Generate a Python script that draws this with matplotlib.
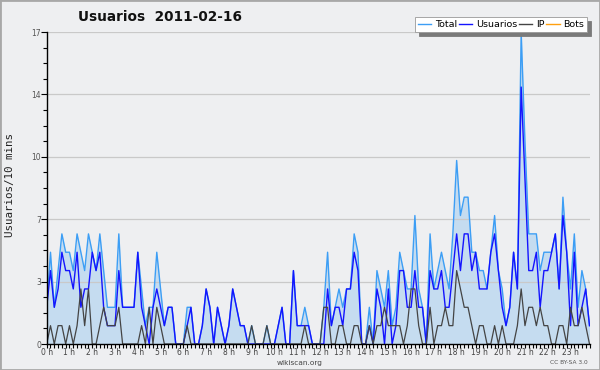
import matplotlib
matplotlib.use('Agg')
import matplotlib.pyplot as plt
from matplotlib.lines import Line2D
from matplotlib.patches import Rectangle

# one value every 10 minutes, 2011-02-16 (144 points)
total = [2, 5, 2, 4, 6, 5,   5, 4, 6, 5, 4, 6,   5, 4, 6, 4, 2, 2,   2, 6, 2, 2, 2, 2,
         5, 3, 1, 2, 2, 5,   3, 1, 2, 2, 0, 0,   0, 2, 2, 0, 0, 1,   3, 2, 0, 2, 1, 0,
         1, 3, 2, 1, 1, 0,   1, 0, 0, 0, 1, 0,   0, 1, 2, 0, 0, 4,   1, 1, 2, 1, 0, 0,
         0, 2, 5, 1, 2, 3,   2, 3, 3, 6, 5, 0,   0, 2, 0, 4, 3, 2,   4, 1, 2, 5, 4, 3,
         3, 7, 3, 2, 0, 6,   3, 4, 5, 4, 3, 6,   10, 7, 8, 8, 5, 5,  4, 4, 3, 5, 7, 4,
         3, 1, 2, 5, 3, 17,  11, 6, 6, 6, 4, 5,  5, 5, 6, 3, 8, 5,   3, 6, 2, 4, 3, 1]

usuarios = [2, 4, 2, 3, 5, 4,   4, 3, 5, 2, 3, 3,   5, 4, 5, 2, 1, 1,   1, 4, 2, 2, 2, 2,
            5, 2, 1, 0, 2, 3,   2, 1, 2, 2, 0, 0,   0, 1, 2, 0, 0, 1,   3, 2, 0, 2, 1, 0,
            1, 3, 2, 1, 1, 0,   0, 0, 0, 0, 0, 0,   0, 1, 2, 0, 0, 4,   1, 1, 1, 1, 0, 0,
            0, 0, 3, 1, 2, 2,   1, 3, 3, 5, 4, 0,   0, 1, 0, 3, 2, 0,   3, 0, 1, 4, 4, 2,
            2, 4, 2, 2, 0, 4,   3, 3, 4, 2, 2, 4,   6, 4, 6, 6, 4, 5,   3, 3, 3, 5, 6, 4,
            2, 1, 2, 5, 3, 14,  9, 4, 4, 5, 2, 4,   4, 5, 6, 3, 7, 5,   1, 5, 1, 2, 3, 1]

ip = [0, 1, 0, 1, 1, 0,   1, 0, 1, 3, 1, 3,   0, 0, 1, 2, 1, 1,   1, 2, 0, 0, 0, 0,
      0, 1, 0, 2, 0, 2,   1, 0, 0, 0, 0, 0,   0, 1, 0, 0, 0, 0,   0, 0, 0, 0, 0, 0,
      0, 0, 0, 0, 0, 0,   1, 0, 0, 0, 1, 0,   0, 0, 0, 0, 0, 0,   0, 0, 1, 0, 0, 0,
      0, 2, 2, 0, 0, 1,   1, 0, 0, 1, 1, 0,   0, 1, 0, 1, 1, 2,   1, 1, 1, 1, 0, 1,
      3, 3, 1, 0, 0, 2,   0, 1, 1, 2, 1, 1,   4, 3, 2, 2, 1, 0,   1, 1, 0, 0, 1, 0,
      1, 0, 0, 0, 1, 3,   1, 2, 2, 1, 2, 1,   1, 0, 0, 1, 1, 0,   2, 1, 1, 2, 1, 0]

hours = ['%d h' % h for h in range(24)]
ytick_vals = [0, 3.4, 6.8, 10.2, 13.6, 17]
ytick_labels = ['0', '3', '7', '10', '14', '17']

bg = '#eeeff1'
c_total = '#3c9ef5'
c_fill = '#c5dcf0'
c_users = '#1414ff'
c_ip = '#444444'
c_bots = '#ffa010'

x = list(range(len(total)))

fig = plt.figure(figsize=(6, 3.7), dpi=100, facecolor=bg)
fig.patches.append(Rectangle((0, 0), 1, 1, transform=fig.transFigure,
                             fill=False, edgecolor='#a8a8a8', lw=2))
ax = fig.add_axes([46.7/600, 26/370, 542.8/600, 312/370], facecolor=bg)

ax.fill_between(x, total, color=c_fill, lw=0, zorder=1)
for v in ytick_vals[1:]:
    ax.axhline(v, color='#c9c9c9', lw=0.9, zorder=1.5)
ax.plot(x, total, color=c_total, lw=1.0, zorder=2)
ax.plot(x, usuarios, color=c_users, lw=1.0, zorder=3)
ax.plot(x, ip, color=c_ip, lw=0.9, zorder=4)

ax.set_xlim(0, len(total) - 1)
ax.set_ylim(0, 17)
ax.set_yticks(ytick_vals)
ax.set_yticklabels(ytick_labels)
ax.set_yticks([i * 0.85 for i in range(21)], minor=True)
ax.set_xticks(range(0, 144, 6))
ax.set_xticklabels(hours)
ax.set_xticks(range(0, 144), minor=True)

for s in ['top', 'right']:
    ax.spines[s].set_visible(False)
for s in ['left', 'bottom']:
    ax.spines[s].set_color('black')
    ax.spines[s].set_linewidth(1.0)
    ax.spines[s].set_zorder(5)

ax.tick_params(axis='y', which='major', length=4, width=0.8, labelsize=5.5,
               labelcolor='#555555', pad=0)
ax.tick_params(axis='y', which='minor', length=3, width=0.8)
ax.tick_params(axis='x', which='both', length=3, width=0.8, labelsize=5.5,
               labelcolor='#444444', pad=0)

fig.text(160/600, 1 - 17/370, 'Usuarios  2011-02-16', ha='center', va='center',
         fontsize=9.8, fontweight='bold', color='#111111')
fig.text(10/600, 1 - 185/370, 'Usuarios/10 mins', rotation=90, ha='center',
         va='center', fontsize=7.8, family='DejaVu Sans Mono', color='#222222')
fig.text(300/600, 1 - 362.5/370, 'wikiscan.org', ha='center', va='center',
         fontsize=5.3, color='#444444')
fig.text(588/600, 1 - 362/370, 'CC BY-SA 3.0', ha='right', va='center',
         fontsize=4.2, color='#555555')

handles = [Line2D([], [], color=c_total, lw=1),
           Line2D([], [], color=c_users, lw=1),
           Line2D([], [], color=c_ip, lw=1),
           Line2D([], [], color=c_bots, lw=1)]
leg = fig.legend(handles, ['Total', 'Usuarios', 'IP', 'Bots'], ncol=4,
                 loc='upper right', bbox_to_anchor=(587/600, 1 - 17/370),
                 fontsize=6.8, frameon=True, fancybox=False,
                 shadow={'color': '#7a7a7a', 'alpha': 1, 'ox': 3, 'oy': -3},
                 handlelength=1.4, handletextpad=0.4, columnspacing=0.2,
                 borderpad=0.3, borderaxespad=0)
leg.get_frame().set_edgecolor('#999999')
leg.get_frame().set_linewidth(0.6)
leg.get_frame().set_alpha(1)

fig.savefig('out.png', dpi=100, facecolor=bg)
